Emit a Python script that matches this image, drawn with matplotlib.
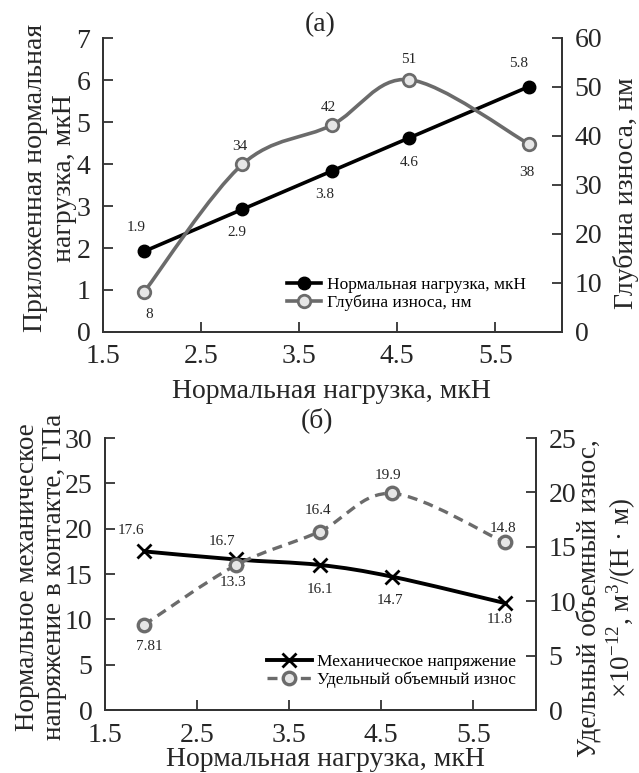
import numpy as np
import matplotlib.pyplot as plt
from matplotlib.path import Path
from matplotlib.patches import PathPatch
from matplotlib.lines import Line2D

plt.rcParams['font.family'] = ['Liberation Serif', 'DejaVu Serif']
plt.rcParams['mathtext.fontset'] = 'custom'
plt.rcParams['mathtext.rm'] = 'Liberation Serif'

# --- data, panel (a) ---
load_x   = [1.92, 2.92, 3.83, 4.62, 5.84]      # normal load, uN
load_y   = [1.92, 2.92, 3.83, 4.62, 5.84]      # applied normal load, uN
load_lbl = ['1.9', '2.9', '3.8', '4.6', '5.8']
depth    = [8.2, 34.2, 42.2, 51.5, 38.4]        # wear depth, nm
depth_lbl = ['8', '34', '42', '51', '38']

# --- data, panel (b) ---
stress     = [17.5, 16.6, 16.0, 14.7, 11.8]     # contact stress, GPa
stress_lbl = ['17.6', '16.7', '16.1', '14.7', '11.8']
wear_vol   = [7.8, 13.3, 16.4, 19.9, 15.4]      # specific volume wear, 1e-12 m3/(N m)
wear_lbl   = ['7.81', '13.3', '16.4', '19.9', '14.8']

xticks = [1.5, 2.5, 3.5, 4.5, 5.5]

INK = '#262626'
GRAY = '#6b6b6b'
FS = 20


def smooth_patch(xs, ys, **kw):
    # Catmull-Rom style cubic bezier through the points (like excel "smoothed line")
    p = np.column_stack([xs, ys]).astype(float)
    verts = [p[0]]
    codes = [Path.MOVETO]
    n = len(p)
    for i in range(n - 1):
        p0 = p[max(i - 1, 0)]
        p1, p2 = p[i], p[i + 1]
        p3 = p[min(i + 2, n - 1)]
        verts += [p1 + (p2 - p0) / 6, p2 - (p3 - p1) / 6, p2]
        codes += [Path.CURVE4] * 3
    return PathPatch(Path(verts, codes), fill=False, **kw)


def style(ax):
    ax.spines['top'].set_visible(False)
    for s in ['left', 'right', 'bottom']:
        ax.spines[s].set_color('#333333')
        ax.spines[s].set_linewidth(1.3)
    ax.tick_params(direction='in', length=7, width=1.3, color='#333333',
                   labelsize=FS, labelcolor=INK, pad=9)


fig = plt.figure(figsize=(6.39, 7.73), dpi=100)
W, H = 639, 773

# ---------------- panel (a) ----------------
ax1 = fig.add_axes([103 / W, 1 - 332 / H, (562 - 103) / W, (332 - 38) / H])
ax1r = ax1.twinx()
style(ax1); style(ax1r)

ax1.plot(load_x, load_y, '-o', color='black', lw=2.6, ms=9, zorder=3)
ax1r.add_patch(smooth_patch(load_x, depth, color=GRAY, lw=2.6, zorder=2))
ax1r.plot(load_x, depth, 'o', ls='none', ms=9, mfc='#e6e6e6', mec=GRAY, mew=2, zorder=4)

ax1.set_xlim(1.5, 6.18)
ax1.set_ylim(0, 7)
ax1r.set_ylim(0, 60)
ax1.set_xticks(xticks)
ax1.set_xticklabels([str(t) for t in xticks])
ax1.set_yticks(range(0, 8))
ax1r.set_yticks(range(0, 61, 10))

off_load = [(-8, 24), (-5, -23), (-7, -23), (0, -25), (-10, 23)]
off_depth = [(5, -23), (-2, 18), (-3, 18), (0, 20), (-2, -29)]
for x, y, t, o in zip(load_x, load_y, load_lbl, off_load):
    ax1.annotate(t, (x, y), xytext=o, textcoords='offset pixels',
                 ha='center', va='center', fontsize=11, color=INK)
for x, y, t, o in zip(load_x, depth, depth_lbl, off_depth):
    ax1r.annotate(t, (x, y), xytext=o, textcoords='offset pixels',
                  ha='center', va='center', fontsize=11, color=INK)

h1 = [Line2D([], [], color='black', lw=2.6, marker='o', ms=9),
      Line2D([], [], color=GRAY, lw=2.6, marker='o', ms=9, mfc='#e6e6e6', mec=GRAY, mew=2)]
ax1.legend(h1, ['Нормальная нагрузка, мкН', 'Глубина износа, нм'],
           loc='lower left', bbox_to_anchor=(0.40, 0.07), frameon=False,
           fontsize=12.5, handlelength=2.0, handletextpad=0.3, labelspacing=0.12,
           borderaxespad=0, borderpad=0)

fig.text(320 / W, 1 - 25 / H, '(а)', ha='center', va='center', fontsize=FS, color=INK)
fig.text(331 / W, 1 - 392 / H, 'Нормальная нагрузка, мкН', ha='center', va='center',
         fontsize=FS, color=INK)
fig.text(50 / W, 1 - 178 / H, 'Приложенная нормальная\nнагрузка, мкН', rotation=90,
         ha='center', va='center', multialignment='center', fontsize=FS, color=INK)
fig.text(626 / W, 1 - 193 / H, 'Глубина износа, нм', rotation=90,
         ha='center', va='center', fontsize=FS, color=INK)

# ---------------- panel (b) ----------------
ax2 = fig.add_axes([105 / W, 1 - 710 / H, (536 - 105) / W, (710 - 438) / H])
ax2r = ax2.twinx()
style(ax2); style(ax2r)

ax2.add_patch(smooth_patch(load_x, stress, color='black', lw=2.8, zorder=3))
ax2.plot(load_x, stress, 'x', ls='none', color='black', ms=10, mew=2, zorder=4)
ax2r.add_patch(smooth_patch(load_x, wear_vol, color=GRAY, lw=2.4, ls=(0, (3, 2)), zorder=2))
ax2r.plot(load_x, wear_vol, 'o', ls='none', ms=9, mfc='#e6e6e6', mec=GRAY, mew=2.4, zorder=4)

ax2.set_xlim(1.5, 6.18)
ax2.set_ylim(0, 30)
ax2r.set_ylim(0, 25)
ax2.set_xticks(xticks)
ax2.set_xticklabels([str(t) for t in xticks])
ax2.set_yticks(range(0, 31, 5))
ax2r.set_yticks(range(0, 26, 5))

off_stress = [(-13, 21), (-14, 18), (0, -25), (-2, -24), (-5, -16)]
off_wear = [(6, -21), (-3, -17), (-2, 21), (-4, 18), (-2, 14)]
for x, y, t, o in zip(load_x, stress, stress_lbl, off_stress):
    ax2.annotate(t, (x, y), xytext=o, textcoords='offset pixels',
                 ha='center', va='center', fontsize=11, color=INK)
for x, y, t, o in zip(load_x, wear_vol, wear_lbl, off_wear):
    ax2r.annotate(t, (x, y), xytext=o, textcoords='offset pixels',
                  ha='center', va='center', fontsize=11, color=INK)

h2 = [Line2D([], [], color='black', lw=2.8, marker='x', ms=10, mew=2),
      Line2D([], [], color=GRAY, lw=2.4, ls=(0, (3, 2)), marker='o', ms=9,
             mfc='#e6e6e6', mec=GRAY, mew=2.4)]
ax2.legend(h2, ['Механическое напряжение', 'Удельный объемный износ'],
           loc='lower left', bbox_to_anchor=(0.375, 0.08), frameon=False,
           fontsize=12.5, handlelength=2.6, handletextpad=0.3, labelspacing=0.12,
           borderaxespad=0, borderpad=0)

fig.text(317 / W, 1 - 420 / H, '(б)', ha='center', va='center', fontsize=FS, color=INK)
fig.text(325 / W, 1 - 760 / H, 'Нормальная нагрузка, мкН', ha='center', va='center',
         fontsize=FS, color=INK)
fig.text(41 / W, 1 - 577 / H, 'Нормальное механическое\nнапряжение в контакте, ГПа',
         rotation=90, ha='center', va='center', multialignment='center',
         fontsize=19.5, linespacing=1.15, color=INK)
fig.text(607 / W, 1 - 598 / H,
         'Удельный объемный износ,\n$\\times10^{-12}$, м$^3$/(Н · м)',
         rotation=90, ha='center', va='center', multialignment='center',
         fontsize=19.5, linespacing=1.15, color=INK)

fig.savefig('out.png', dpi=100)
